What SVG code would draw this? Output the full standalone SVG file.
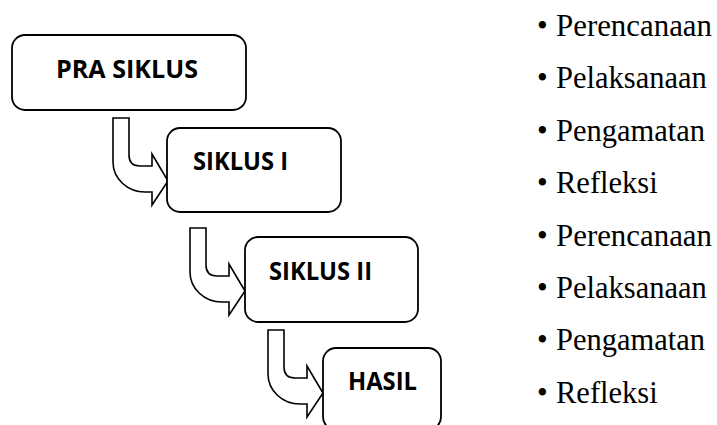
<svg xmlns="http://www.w3.org/2000/svg" width="717" height="425" viewBox="0 0 717 425">
<style>
.box{fill:#fff;stroke:#000;stroke-width:1.8}
.arr{fill:#fff;stroke:#000;stroke-width:1.6;stroke-linejoin:miter}
.lbl{font-family:"Open Sans","Liberation Sans",sans-serif;font-weight:bold;font-size:25px;fill:#000}
.li{font-family:"Liberation Serif","DejaVu Serif",serif;font-size:30.5px;fill:#000}
</style>
<defs>
<path id="bent" d="M 0 0 H 16 V 37 Q 16 48 27 48 H 39 V 36 L 55 63 L 39 87 V 74 H 32 A 32 30 0 0 1 0 44 Z"/>
</defs>
<rect width="717" height="425" fill="#fff"/>
<g id="connectors">
<use href="#bent" class="arr" transform="translate(113,118)"/>
<use href="#bent" class="arr" transform="translate(190,228)"/>
<use href="#bent" class="arr" transform="translate(268,330)"/>
</g>
<g id="pra-siklus">
<rect class="box" x="12" y="35" width="234" height="75" rx="13"/>
<text class="lbl" x="56" y="78" textLength="142" lengthAdjust="spacingAndGlyphs">PRA SIKLUS</text>
</g>
<g id="siklus-1">
<rect class="box" x="167" y="128" width="174" height="84" rx="13"/>
<text class="lbl" x="193" y="170" textLength="95" lengthAdjust="spacingAndGlyphs">SIKLUS I</text>
</g>
<g id="siklus-2">
<rect class="box" x="245" y="237" width="173" height="85" rx="13"/>
<text class="lbl" x="269" y="280" textLength="103" lengthAdjust="spacingAndGlyphs">SIKLUS II</text>
</g>
<g id="hasil">
<rect class="box" x="323" y="348" width="118" height="82" rx="13"/>
<text class="lbl" x="348" y="390" textLength="69" lengthAdjust="spacingAndGlyphs">HASIL</text>
</g>
<g id="list">
<text class="li" x="537" y="36">• <tspan x="556" textLength="156" lengthAdjust="spacingAndGlyphs">Perencanaan</tspan></text>
<text class="li" x="537" y="88">• <tspan x="556">Pelaksanaan</tspan></text>
<text class="li" x="537" y="141">• <tspan x="556">Pengamatan</tspan></text>
<text class="li" x="537" y="193">• <tspan x="556">Refleksi</tspan></text>
<text class="li" x="537" y="246">• <tspan x="556" textLength="156" lengthAdjust="spacingAndGlyphs">Perencanaan</tspan></text>
<text class="li" x="537" y="298">• <tspan x="556">Pelaksanaan</tspan></text>
<text class="li" x="537" y="350">• <tspan x="556">Pengamatan</tspan></text>
<text class="li" x="537" y="403">• <tspan x="556">Refleksi</tspan></text>
</g>
</svg>
